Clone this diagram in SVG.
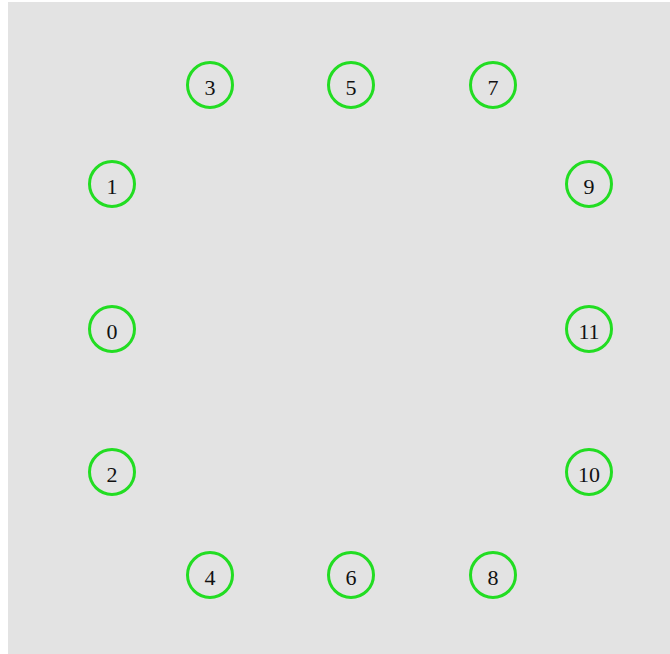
<svg xmlns="http://www.w3.org/2000/svg" width="670" height="654" viewBox="0 0 670 654">
<style>
.n circle{fill:none;stroke:#22dd22;stroke-width:3}
.n text{font-family:"Liberation Serif",serif;font-size:22px;fill:#111;text-anchor:middle;dominant-baseline:central}
</style>
<rect x="0" y="0" width="670" height="654" fill="#ffffff"/>
<rect x="8" y="2" width="662" height="652" fill="#e3e3e3"/>
<g id="connectors"></g>
<g id="n3" class="n"><circle cx="210" cy="85" r="22.5"/><text x="210" y="87">3</text></g>
<g id="n5" class="n"><circle cx="351" cy="85" r="22.5"/><text x="351" y="87">5</text></g>
<g id="n7" class="n"><circle cx="493" cy="85" r="22.5"/><text x="493" y="87">7</text></g>
<g id="n1" class="n"><circle cx="112" cy="184" r="22.5"/><text x="112" y="186">1</text></g>
<g id="n9" class="n"><circle cx="589" cy="184" r="22.5"/><text x="589" y="186">9</text></g>
<g id="n0" class="n"><circle cx="112" cy="329" r="22.5"/><text x="112" y="331">0</text></g>
<g id="n11" class="n"><circle cx="589" cy="329" r="22.5"/><text x="589" y="331">11</text></g>
<g id="n2" class="n"><circle cx="112" cy="472" r="22.5"/><text x="112" y="474">2</text></g>
<g id="n10" class="n"><circle cx="589" cy="472" r="22.5"/><text x="589" y="474">10</text></g>
<g id="n4" class="n"><circle cx="210" cy="575" r="22.5"/><text x="210" y="577">4</text></g>
<g id="n6" class="n"><circle cx="351" cy="575" r="22.5"/><text x="351" y="577">6</text></g>
<g id="n8" class="n"><circle cx="493" cy="575" r="22.5"/><text x="493" y="577">8</text></g>
</svg>
